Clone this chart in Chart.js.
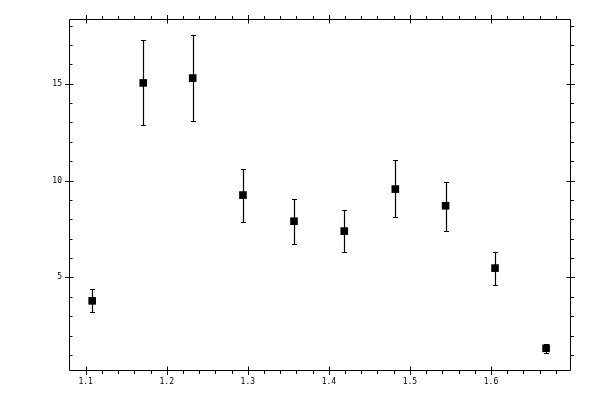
<!DOCTYPE html>
<html>
<head>
<meta charset="utf-8">
<script src="https://cdn.jsdelivr.net/npm/chart.js@4/dist/chart.umd.min.js"></script>
<style>
html,body{margin:0;padding:0;background:#fff;}
#wrap{width:600px;height:400px;}
</style>
</head>
<body>
<div id="wrap"><canvas id="c" width="600" height="400"></canvas></div>
<script>
const xValues = [1.108, 1.171, 1.232, 1.294, 1.357, 1.419, 1.482, 1.544, 1.605, 1.668];
const yValues = [3.79, 15.04, 15.29, 9.25, 7.90, 7.39, 9.56, 8.70, 5.48, 1.34];
const errLow  = [3.22, 12.87, 13.07, 7.85, 6.72, 6.30, 8.11, 7.39, 4.60, 1.10];
const errHigh = [4.39, 17.26, 17.53, 10.59, 9.04, 8.47, 11.06, 9.92, 6.30, 1.56];
const xTickValues = [1.1, 1.2, 1.3, 1.4, 1.5, 1.6];
const xTickLabels = ['1.1', '1.2', '1.3', '1.4', '1.5', '1.6'];
const yTickValues = [5, 10, 15];
const yTickLabels = ['5', '10', '15'];
const xRange = [1.0794, 1.6975];
const yRange = [0.22, 18.34];
const xMinorStep = 0.02;
const yMinorStep = 1;

const points = xValues.map((x, i) => ({x: x, y: yValues[i]}));

const errorBars = {
  id: 'errorBars',
  afterDatasetsDraw(chart) {
    const ctx = chart.ctx, xs = chart.scales.x, ys = chart.scales.y;
    ctx.save();
    ctx.strokeStyle = '#000';
    ctx.lineWidth = 1.2;
    for (let i = 0; i < xValues.length; i++) {
      const px = Math.round(xs.getPixelForValue(xValues[i])) + 0.5;
      const lo = ys.getPixelForValue(errLow[i]);
      const hi = ys.getPixelForValue(errHigh[i]);
      ctx.beginPath();
      ctx.moveTo(px, lo); ctx.lineTo(px, hi);
      ctx.moveTo(px - 2.5, Math.round(lo) + 0.5); ctx.lineTo(px + 2.5, Math.round(lo) + 0.5);
      ctx.moveTo(px - 2.5, Math.round(hi) + 0.5); ctx.lineTo(px + 2.5, Math.round(hi) + 0.5);
      ctx.stroke();
    }
    ctx.restore();
  }
};

const frame = {
  id: 'frame',
  afterDraw(chart) {
    const ctx = chart.ctx, a = chart.chartArea, xs = chart.scales.x, ys = chart.scales.y;
    const L = Math.round(a.left) + 0.5, R = Math.round(a.right) + 0.5;
    const T = Math.round(a.top) + 0.5, B = Math.round(a.bottom) + 0.5;
    ctx.save();
    ctx.strokeStyle = '#000';
    ctx.lineWidth = 1;
    ctx.beginPath();
    ctx.rect(L, T, R - L, B - T);
    ctx.stroke();
    ctx.beginPath();
    // x minor ticks
    for (let v = Math.ceil(xRange[0] / xMinorStep) * xMinorStep; v <= xRange[1]; v += xMinorStep) {
      const p = Math.round(xs.getPixelForValue(v)) + 0.5;
      if (p <= L + 1 || p >= R - 1) continue;
      ctx.moveTo(p, B); ctx.lineTo(p, B + 3.5);
      ctx.moveTo(p, T); ctx.lineTo(p, T - 3.5);
    }
    // x major
    xTickValues.forEach(v => {
      const p = Math.round(xs.getPixelForValue(v)) + 0.5;
      ctx.moveTo(p, B - 4); ctx.lineTo(p, B + 4.5);
      ctx.moveTo(p, T + 4); ctx.lineTo(p, T - 4.5);
    });
    // y minor
    for (let v = Math.ceil(yRange[0] / yMinorStep) * yMinorStep; v <= yRange[1]; v += yMinorStep) {
      const p = Math.round(ys.getPixelForValue(v)) + 0.5;
      if (p <= T + 1 || p >= B - 1) continue;
      ctx.moveTo(L, p); ctx.lineTo(L + 3, p);
      ctx.moveTo(R, p); ctx.lineTo(R + 3.5, p);
    }
    yTickValues.forEach(v => {
      const p = Math.round(ys.getPixelForValue(v)) + 0.5;
      ctx.moveTo(L - 4.5, p); ctx.lineTo(L + 4, p);
      ctx.moveTo(R - 4, p); ctx.lineTo(R + 4.5, p);
    });
    ctx.stroke();
    ctx.restore();
  }
};

const tickFont = {family: 'DejaVu Sans Mono', size: 8};

new Chart(document.getElementById('c'), {
  type: 'scatter',
  data: {
    datasets: [{
      data: points,
      pointStyle: 'rect',
      pointRadius: 5.4,
      pointHoverRadius: 5.4,
      backgroundColor: '#000',
      borderColor: '#000',
      borderWidth: 0
    }]
  },
  options: {
    responsive: false,
    animation: false,
    devicePixelRatio: 1,
    layout: {padding: {top: 19, right: 30, left: 0, bottom: 0}},
    plugins: {legend: {display: false}, tooltip: {enabled: false}},
    scales: {
      x: {
        type: 'linear', min: xRange[0], max: xRange[1],
        grid: {display: false, drawTicks: false},
        border: {display: false},
        afterBuildTicks: s => { s.ticks = xTickValues.map(v => ({value: v})); },
        afterFit: s => { s.height = 30; },
        ticks: {
          color: '#000', font: tickFont, padding: 7, autoSkip: false, maxRotation: 0,
          callback: (v) => { const i = xTickValues.findIndex(t => Math.abs(t - v) < 1e-9); return i >= 0 ? xTickLabels[i] : ''; }
        }
      },
      y: {
        type: 'linear', min: yRange[0], max: yRange[1],
        grid: {display: false, drawTicks: false},
        border: {display: false},
        afterBuildTicks: s => { s.ticks = yTickValues.map(v => ({value: v})); },
        afterFit: s => { s.width = 69; },
        ticks: {
          color: '#000', font: tickFont, padding: 7, autoSkip: false,
          callback: (v) => { const i = yTickValues.findIndex(t => Math.abs(t - v) < 1e-9); return i >= 0 ? yTickLabels[i] : ''; }
        }
      }
    }
  },
  plugins: [errorBars, frame]
});
</script>
</body>
</html>
